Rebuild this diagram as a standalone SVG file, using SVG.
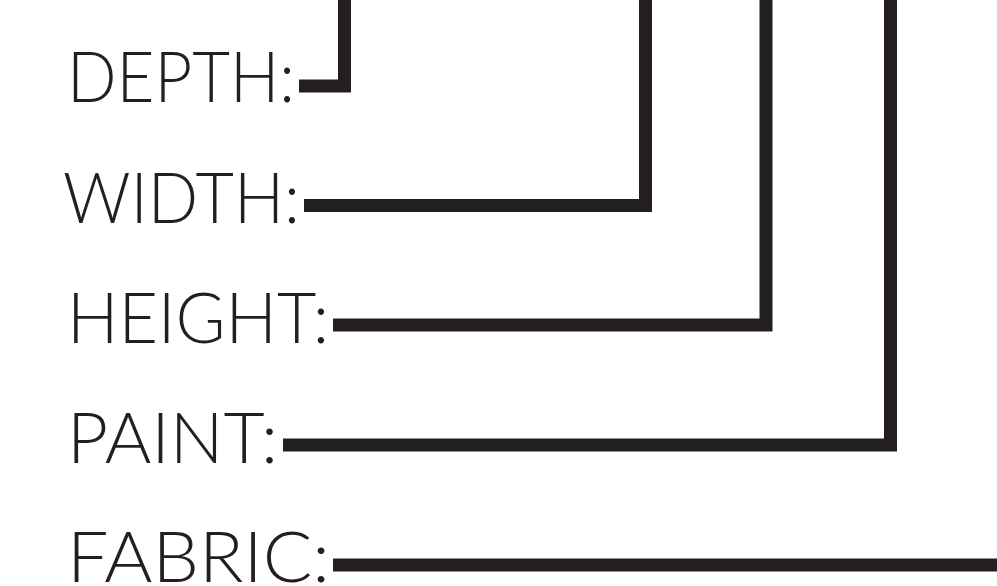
<svg xmlns="http://www.w3.org/2000/svg" width="997" height="586" viewBox="0 0 997 586">
  <style>
    .lbl { font-family: Lato, "Liberation Sans", "DejaVu Sans", sans-serif; font-weight: 300; font-size: 70px; fill: #231f20; }
    .conn { fill: none; stroke: #231f20; stroke-width: 13; stroke-linejoin: miter; stroke-linecap: butt; }
  </style>
  <rect x="0" y="0" width="997" height="586" fill="#ffffff"/>
  <g id="depth">
    <text class="lbl" x="67" y="102" textLength="228" lengthAdjust="spacingAndGlyphs">DEPTH:</text>
  </g>
  <g id="width">
    <text class="lbl" x="63" y="223" textLength="237" lengthAdjust="spacingAndGlyphs">WIDTH:</text>
  </g>
  <g id="height">
    <text class="lbl" x="67" y="343" textLength="262" lengthAdjust="spacingAndGlyphs">HEIGHT:</text>
  </g>
  <g id="paint">
    <text class="lbl" x="67" y="463" textLength="211" lengthAdjust="spacingAndGlyphs">PAINT:</text>
  </g>
  <g id="fabric">
    <text class="lbl" x="67" y="582" textLength="263" lengthAdjust="spacingAndGlyphs">FABRIC:</text>
  </g>
  <g id="connectors">
    <path class="conn" d="M299,86 H344.5 V0"/>
    <path class="conn" d="M304,205.5 H645.5 V0"/>
    <path class="conn" d="M333,325 H766 V0"/>
    <path class="conn" d="M283,445 H890.5 V0"/>
    <path class="conn" d="M333,565 H997"/>
  </g>
</svg>
